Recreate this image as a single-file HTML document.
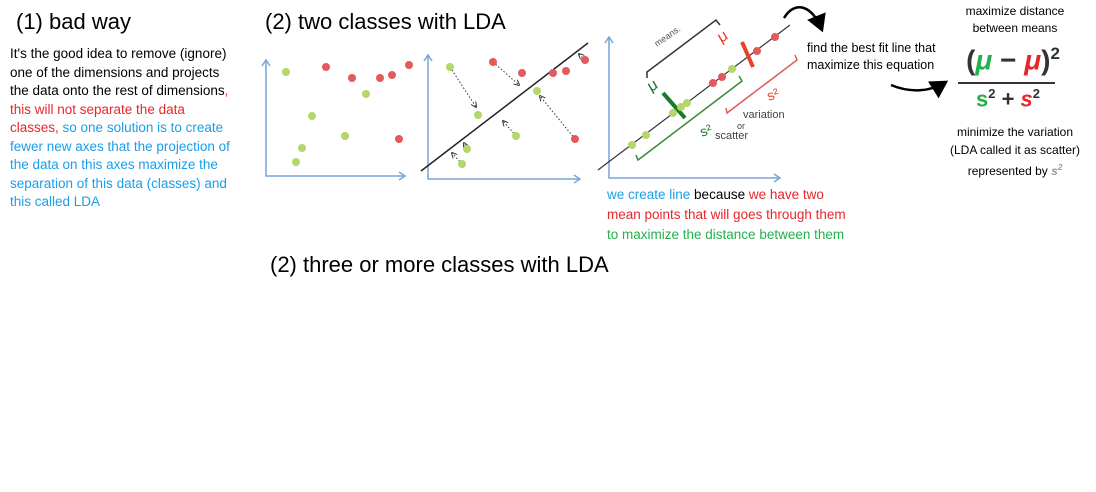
<!DOCTYPE html>
<html><head><meta charset="utf-8"><style>
body{margin:0;width:1096px;height:492px;background:#fff;overflow:hidden;font-family:"Liberation Sans",sans-serif;position:relative}
.t{position:absolute;white-space:nowrap;color:#000}
.r{color:#e8262a}.b{color:#1a9ee8}.g{color:#22b14c}
</style></head><body>
<div class="t" style="left:16px;top:9px;font-size:22px">(1) bad way</div>
<div class="t" style="left:265px;top:9px;font-size:22px">(2) two classes with LDA</div>
<div class="t" style="left:270px;top:252px;font-size:22px">(2) three or more classes with LDA</div>
<div class="t" style="left:10px;top:45px;font-size:13.5px;line-height:18.5px">
It's the good idea to remove (ignore)<br>one of the dimensions and projects<br>the data onto the rest of dimensions<span class="r">,</span><br><span class="r">this will not separate the data</span><br><span class="r">classes,</span><span class="b"> so one solution is to create</span><br><span class="b">fewer new axes that the projection of</span><br><span class="b">the data on this axes maximize the</span><br><span class="b">separation of this data (classes) and</span><br><span class="b">this called LDA</span></div>
<div class="t" style="left:607px;top:185px;font-size:13.5px;line-height:20px"><span class="b">we create line</span> because <span class="r">we have two</span><br><span class="r">mean points that will goes through them</span><br><span class="g">to maximize the distance between them</span></div>
<div class="t" style="left:807px;top:40px;font-size:12.5px;line-height:17px">find the best fit line that<br>maximize this equation</div>
<div class="t" style="left:965px;top:3px;width:100px;text-align:center;font-size:12px;line-height:17px">maximize distance<br>between means</div>
<div class="t" style="left:958px;top:44px;width:110px;text-align:center;font-size:28px;font-weight:bold;color:#333">(<span class="g" style="font-style:italic">μ</span> − <span class="r" style="font-style:italic">μ</span>)<sup style="font-size:17px">2</sup></div>
<div style="position:absolute;left:958px;top:82px;width:97px;height:2px;background:#333"></div>
<div class="t" style="left:958px;top:86px;width:100px;text-align:center;font-size:22px;font-weight:bold;color:#333"><span class="g">s</span><sup style="font-size:13px">2</sup> + <span class="r" style="font-style:italic">s</span><sup style="font-size:13px">2</sup></div>
<div class="t" style="left:950px;top:123px;width:130px;text-align:center;font-size:12px;line-height:18px">minimize the variation<br>(LDA called it as scatter)<br>represented by <b style="color:#999;font-style:italic">s<sup style="font-size:8px">2</sup></b></div>
<svg id="sv" width="1096" height="492" style="position:absolute;left:0;top:0">
<defs><marker id="ah" markerWidth="6" markerHeight="6" refX="5" refY="3" orient="auto"><path d="M0,0L6,3L0,6" fill="none" stroke="#333"/></marker>
<marker id="bh" markerWidth="8" markerHeight="8" refX="6" refY="4" orient="auto"><path d="M0,0L7,4L0,8z" fill="#000"/></marker></defs>
<g id="p1"></g><g id="p2"></g><g id="p3"></g>
<path d="M784,18 C795,0 812,5 822,30" fill="none" stroke="#000" stroke-width="2.5" marker-end="url(#bh)"/>
<path d="M891,85 C910,93 930,92 946,82" fill="none" stroke="#000" stroke-width="2.5" marker-end="url(#bh)"/>
</svg>
<script>
// plot data: x,y in plot units (origin at axis corner)
const p1GreenX=[20,46,36,30,79,100], p1GreenY=[104,60,28,14,40,82];
const p1RedX=[60,86,114,126,143,133], p1RedY=[109,98,98,101,111,37];
const p2GreenX=[22,50,39,34,88,109], p2GreenY=[112,64,30,15,43,88];
const p2RedX=[65,94,125,138,157,147], p2RedY=[117,106,106,108,119,40];
const p3GreenX=[23,37,64,72,78,123], p3GreenY=[33,43,65,71,75,109];
const p3RedX=[104,113,148,166], p3RedY=[95,101,127,141];
const NS='http://www.w3.org/2000/svg';
function mk(g,tag,at){const e=document.createElementNS(NS,tag);for(const k in at)e.setAttribute(k,at[k]);g.appendChild(e);return e;}
function plot(id,ox,oy,top,right){
 const g=document.getElementById(id);
 const sx=v=>ox+v, sy=v=>oy-v;
 const ax=mk(g,'path',{d:`M${ox},${top}L${ox},${oy}L${right},${oy}`,fill:'none',stroke:'#7aa3d8','stroke-width':1.5});
 
 
 mk(g,'path',{d:`M${ox-4},${top+6}L${ox},${top}L${ox+4},${top+6}M${right-6},${oy-4}L${right},${oy}L${right-6},${oy+4}`,fill:'none',stroke:'#7aa3d8','stroke-width':1.5});
 return {g,sx,sy,pts(xs,ys,c,n){xs.forEach((x,i)=>{const e=mk(g,'circle',{cx:sx(x),cy:sy(ys[i]),r:4,fill:c});
  
  });}};
}
const a=plot('p1',266,176,60,405);
a.pts(p1GreenX,p1GreenY,'#b5d66a','green-point');a.pts(p1RedX,p1RedY,'#e25a5a','red-point');
const b=plot('p2',428,179,55,580);
mk(b.g,'line',{x1:421,y1:171,x2:588,y2:43,stroke:'#222','stroke-width':1.5});
const arr=[[450,67,476,107],[493,62,519,85],[516,136,503,121],[575,139,540,96],[462,164,452,153],[585,60,579,54],[467,149,464,143]];
arr.forEach(q=>mk(b.g,'line',{x1:q[0],y1:q[1],x2:q[2],y2:q[3],stroke:'#333','stroke-dasharray':'1.5,2','marker-end':'url(#ah)'}));
b.pts(p2GreenX,p2GreenY,'#b5d66a','green-point');b.pts(p2RedX,p2RedY,'#e25a5a','red-point');
const c=plot('p3',609,178,37,780);
mk(c.g,'line',{x1:598,y1:170,x2:790,y2:25,stroke:'#333','stroke-width':1.2});
mk(c.g,'path',{d:'M647,78L647,72L716,20L720,25',fill:'none',stroke:'#333','stroke-width':1.5});
mk(c.g,'path',{d:'M636,155L638,160L742,81L739,76',fill:'none',stroke:'#3a8a3a','stroke-width':1.5});
mk(c.g,'path',{d:'M726,108L727,113L797,60L795,55',fill:'none',stroke:'#e25a5a','stroke-width':1.5});
mk(c.g,'line',{x1:663,y1:93,x2:685,y2:118,stroke:'#1a7a2a','stroke-width':4});
mk(c.g,'line',{x1:742,y1:42,x2:753,y2:67,stroke:'#e8402a','stroke-width':4});
c.pts(p3GreenX,p3GreenY,'#b5d66a','green-point');c.pts(p3RedX,p3RedY,'#e25a5a','red-point');
const T=(x,y,s,sz,col,name,rot)=>{const e=mk(c.g,'text',{x,y,'font-size':sz,fill:col,'font-family':'Liberation Sans, sans-serif'});e.textContent=s;
 if(rot)e.setAttribute('transform',`rotate(${rot} ${x} ${y})`);
 
 };
T(657,47,'means.',9,'#555','means-label',-35);
T(651,92,'μ',16,'#1a7a2a','green-mu-label',-30);T(721,43,'μ',16,'#e8402a','red-mu-label',-30);
T(702,137,'s²',14,'#1a7a2a','green-s2-label',-20);T(769,101,'s²',14,'#e8402a','red-s2-label',-20);
T(743,118,'variation',11,'#444','variation-label');T(737,129,'or',9,'#444','or-label');T(715,139,'scatter',11,'#444','scatter-label');
</script>
</body></html>
